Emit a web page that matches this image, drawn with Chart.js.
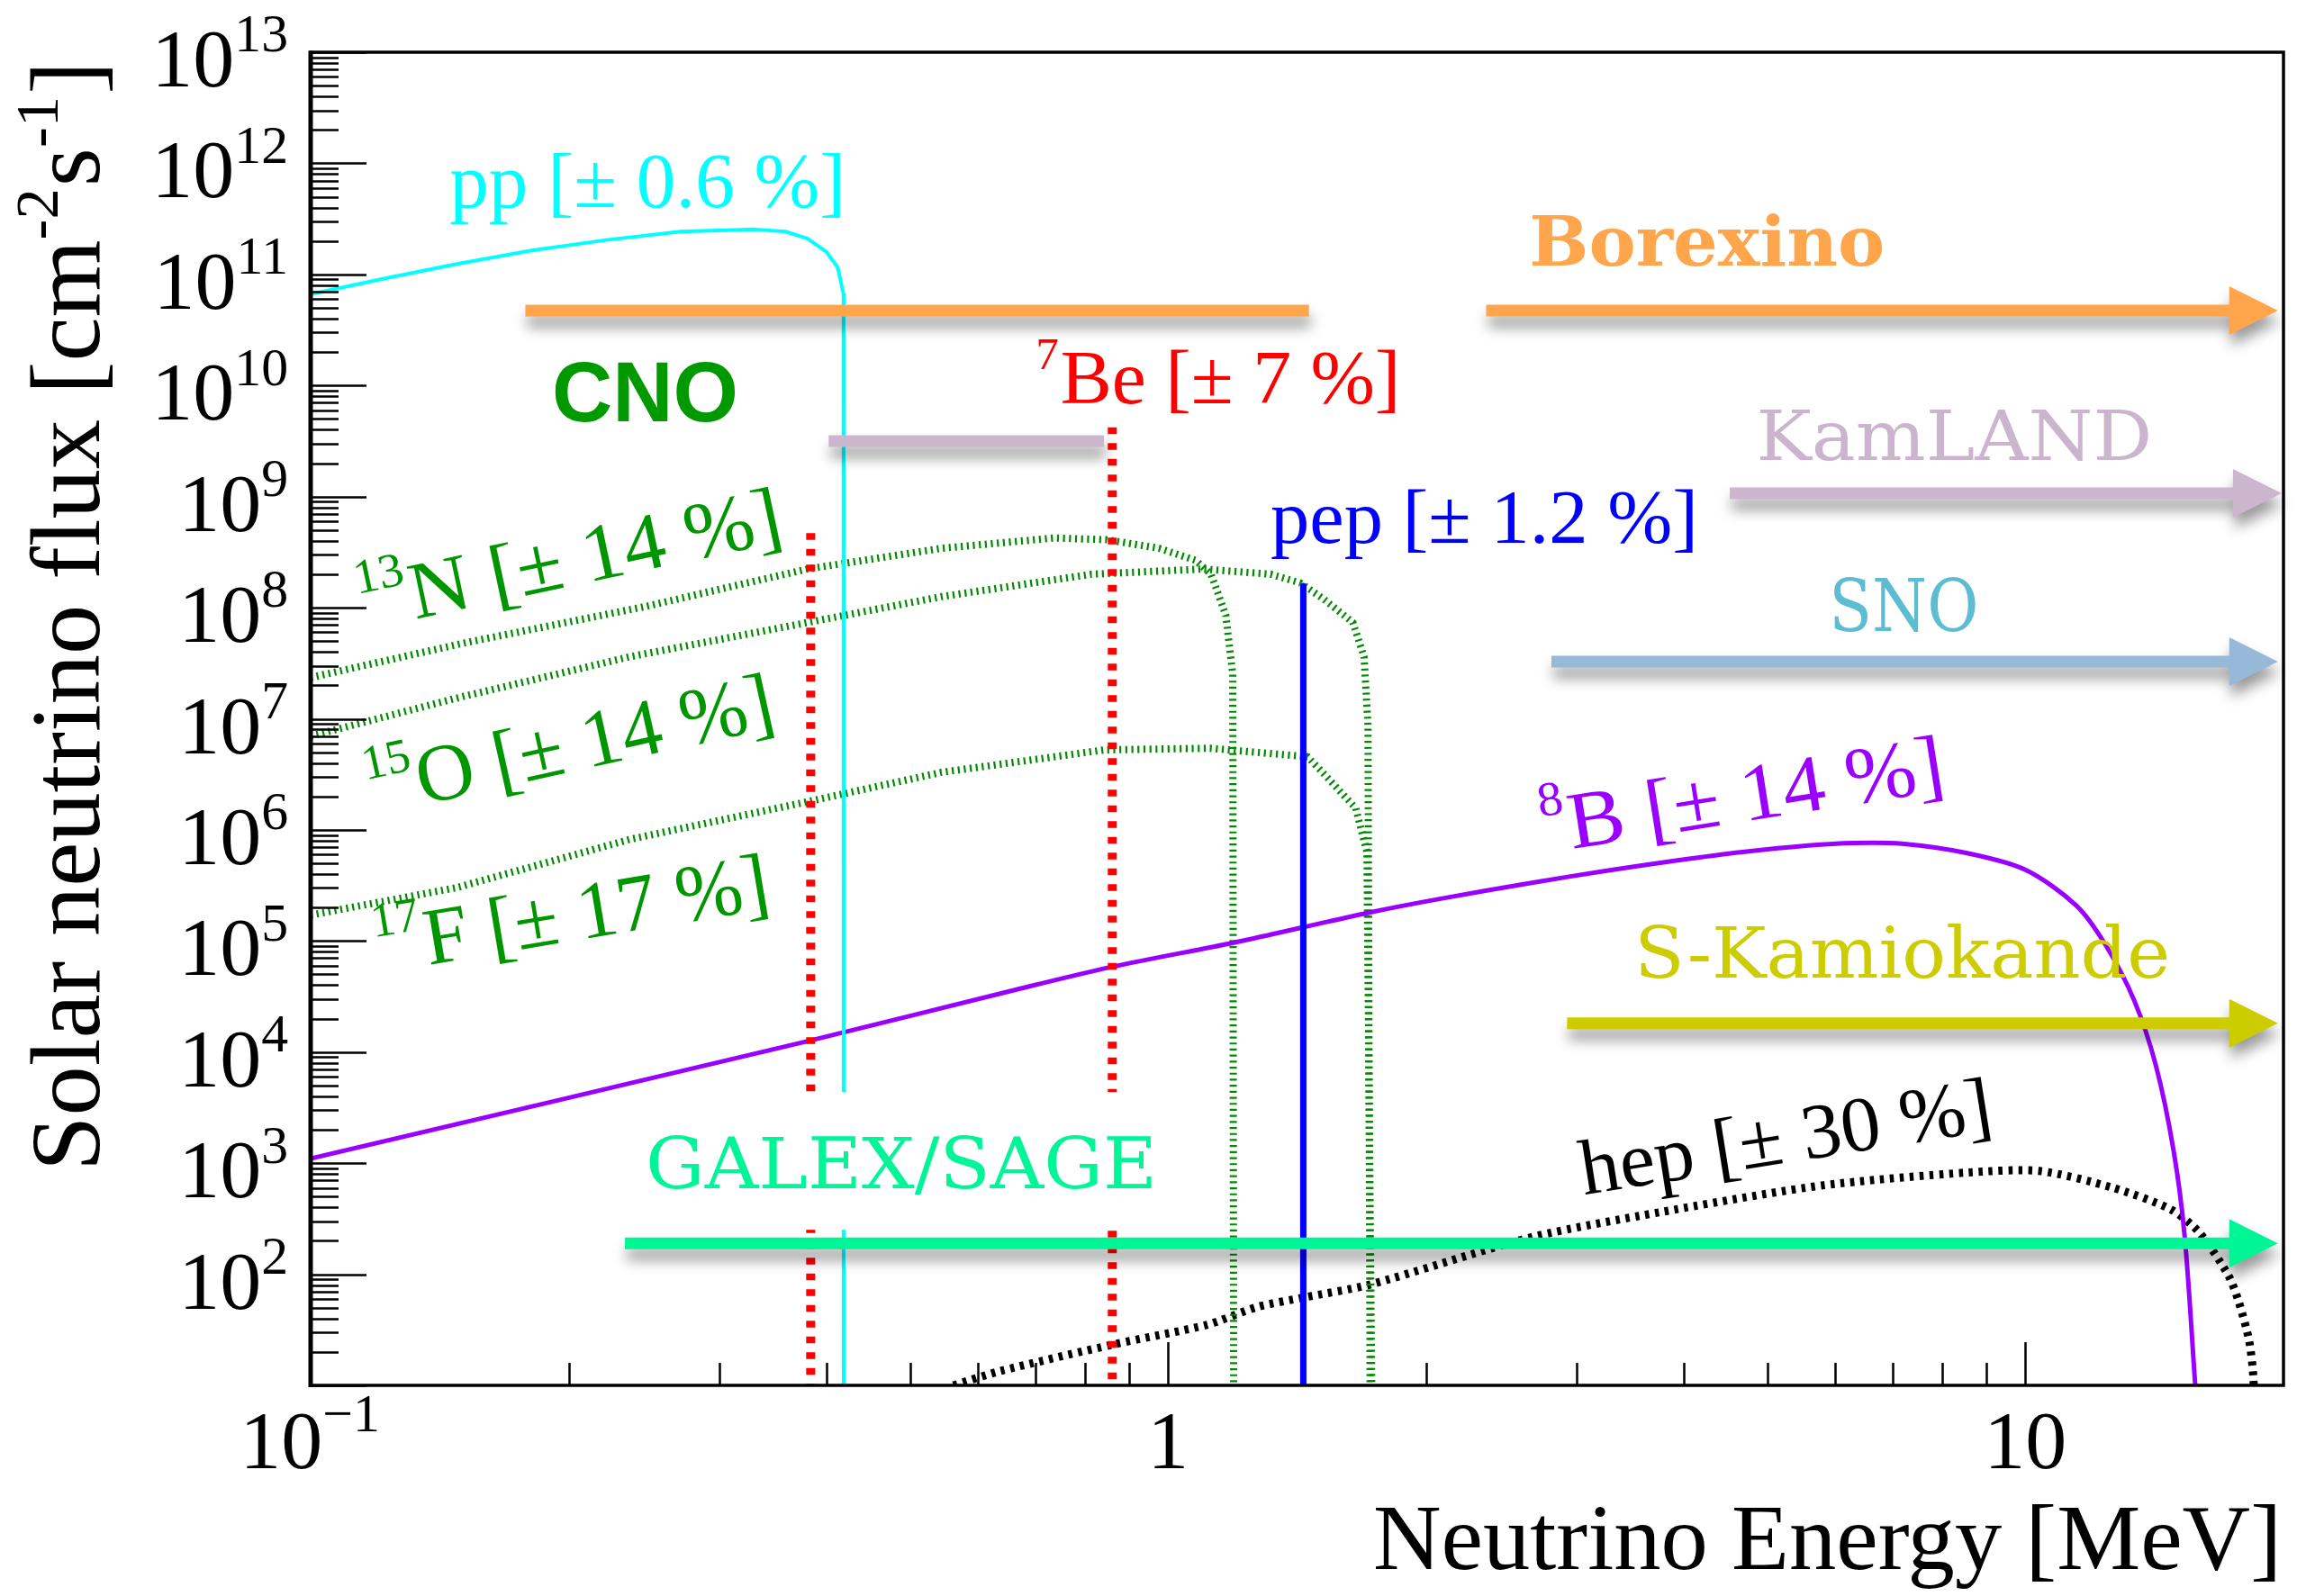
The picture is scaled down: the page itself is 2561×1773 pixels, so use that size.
<!DOCTYPE html>
<html>
<head>
<meta charset="utf-8">
<title>Solar neutrino spectrum</title>
<script src="https://cdn.jsdelivr.net/npm/chart.js@4.4.1/dist/chart.umd.min.js"></script>
<style>
  html, body { margin: 0; padding: 0; background: #ffffff; overflow: hidden; }
  canvas { display: block; }
</style>
</head>
<body>
<canvas id="spectrum" width="2561" height="1773" style="width:2561px;height:1773px"></canvas>
<script>
// ---------------- axis ranges ----------------
const energyMin = 0.1, energyMax = 20;     // MeV
const fluxMin = 10, fluxMax = 1e13;        // cm^-2 s^-1

// ---------------- tick labels ----------------
const xTickValues = [0.1, 1, 10];
const xTickBase   = ['10', '1', '10'];
const xTickSup    = ['\u22121', '', ''];
const yTickValues = [1e2, 1e3, 1e4, 1e5, 1e6, 1e7, 1e8, 1e9, 1e10, 1e11, 1e12, 1e13];
const yTickBase   = ['10', '10', '10', '10', '10', '10', '10', '10', '10', '10', '10', '10'];
const yTickSup    = ['2', '3', '4', '5', '6', '7', '8', '9', '10', '11', '12', '13'];

// ---------------- neutrino spectra (energy in MeV, flux) ----------------
// the final value 1 of a continuum sends the endpoint drop below the axis floor
const ppEnergy = [0.1, 0.1211, 0.1481, 0.181, 0.2212, 0.2702, 0.3303, 0.3579, 0.380, 0.3996, 0.4118, 0.4183, 0.4185];
const ppFlux   = [6.65e10, 9.08e10, 1.24e11, 1.64e11, 2.04e11, 2.43e11, 2.54e11, 2.43e11, 2.10e11, 1.59e11, 1.16e11, 6.65e10, 1];

const be7LineEnergy = [0.383, 0.861];
const be7LineFlux   = [4.7e8, 4.2e9];

const pepLineEnergy = [1.438];
const pepLineFlux   = [1.57e8];

const n13Energy = [0.1, 0.151, 0.2444, 0.380, 0.545, 0.7364, 0.848, 0.9757, 1.078, 1.122, 1.134, 1.168, 1.190, 1.193];
const n13Flux   = [2.35e7, 4.81e7, 1.016e8, 2.23e8, 3.43e8, 4.24e8, 4.09e8, 3.43e8, 2.66e8, 2.0e8, 1.62e8, 8.5e7, 2.5e7, 1];

const o15Energy = [0.1, 0.148, 0.2353, 0.380, 0.545, 0.814, 1.100, 1.317, 1.427, 1.516, 1.643, 1.693, 1.711, 1.722];
const o15Flux   = [6.98e6, 1.535e7, 3.61e7, 7.36e7, 1.26e8, 2.0e8, 2.23e8, 2.0e8, 1.67e8, 1.21e8, 7.36e7, 3.61e7, 8.67e6, 1];

const f17Energy = [0.1, 0.148, 0.2355, 0.380, 0.5445, 0.8433, 1.119, 1.455, 1.521, 1.656, 1.706, 1.733];
const f17Flux   = [1.71e5, 3.02e5, 8.2e5, 1.795e6, 3.30e6, 5.25e6, 5.43e6, 4.55e6, 3.18e6, 1.56e6, 6.3e5, 1];

const b8Energy = [0.1, 0.381, 0.666, 0.860, 1.193, 1.438, 1.727, 2.080, 2.664, 3.236, 3.930, 4.677, 5.58, 6.31, 7.178, 8.551, 10.0, 11.46, 12.39, 13.39, 14.19, 14.89, 15.34, 15.78, 16.12];
const b8Flux   = [1.10e3, 1.26e4, 3.66e4, 5.85e4, 9.66e4, 1.33e5, 1.82e5, 2.40e5, 3.35e5, 4.27e5, 5.31e5, 6.31e5, 7.24e5, 7.62e5, 7.50e5, 6.17e5, 4.37e5, 2.09e5, 9.33e4, 2.93e4, 7.67e3, 1.29e3, 217, 10, 1];

const hepEnergy = [0.562, 0.636, 0.8665, 1.109, 1.271, 1.438, 1.719, 2.664, 3.93, 5.80, 8.55, 10.39, 12.63, 14.76, 15.95, 17.25, 17.74, 18.24, 18.45, 18.6];
const hepFlux   = [10, 13.4, 23.5, 35.0, 50.8, 61.7, 80.7, 217, 386, 631, 824, 851, 603, 386, 238, 97.7, 56.2, 25.1, 11.5, 1];

// ---------------- experiment sensitivity ranges ----------------
const bandNames = ['Borexino', 'KamLAND'];
const bandLowE  = [0.178, 0.402];
const bandHighE = [1.46, 0.842];
const bandFlux  = [4.72e10, 3.16e9];

const arrowNames = ['Borexino', 'KamLAND', 'SNO', 'S-Kamiokande', 'GALEX/SAGE'];
const arrowLowE  = [2.35, 4.52, 2.80, 2.92, 0.2326];
const arrowTipE  = [19.7, 19.9, 19.7, 19.7, 19.7];
const arrowFlux  = [4.72e10, 1.07e9, 3.27e7, 1.82e4, 190];

// ---------------- styling ----------------
const SERIF = '"Liberation Serif", Tinos, "Times New Roman", serif';
const SANS  = '"Liberation Sans", Arimo, Arial, sans-serif';
const TYPE  = '"DejaVu Serif", serif';

const expColor = {
  'Borexino': '#ffa64d',
  'KamLAND': '#cbb6cd',
  'SNO': '#96b9da',
  'S-Kamiokande': '#cccc00',
  'GALEX/SAGE': '#00f596'
};

const pts = (es, fs) => es.map((e, i) => ({ x: e, y: fs[i] }));

function series(label, data, color, width, dash, tension) {
  return {
    label, data,
    borderColor: color, backgroundColor: color,
    borderWidth: width, borderDash: dash || [],
    borderCapStyle: 'butt', borderJoinStyle: 'round',
    pointRadius: 0, tension: tension || 0, fill: false
  };
}

const datasets = [
  series('pep', [{ x: pepLineEnergy[0], y: pepLineFlux[0] }, { x: pepLineEnergy[0], y: 1 }], '#0000ff', 7),
  series('pp', pts(ppEnergy, ppFlux), '#00ffff', 4),
  series('7Be 0.38', [{ x: be7LineEnergy[0], y: be7LineFlux[0] }, { x: be7LineEnergy[0], y: 1 }], '#ff0000', 10, [7.5, 10]),
  series('7Be 0.86', [{ x: be7LineEnergy[1], y: be7LineFlux[1] }, { x: be7LineEnergy[1], y: 1 }], '#ff0000', 10, [7.5, 10]),
  series('8B', pts(b8Energy, b8Flux), '#9900ff', 5, null, 0.3),
  series('13N', pts(n13Energy, n13Flux), '#008a00', 8, [2.2, 4.5]),
  series('15O', pts(o15Energy, o15Flux), '#008a00', 8, [2.2, 4.5]),
  series('17F', pts(f17Energy, f17Flux), '#008a00', 8, [2.2, 4.5]),
  series('hep', pts(hepEnergy, hepFlux), '#000000', 9, [4.5, 6.5], 0.25)
];

// ---------------- text labels (anchored in data coordinates) ----------------
const labels = [
  { segs: [['pp [\u00b1 0.6 %]']], e: 0.1452, f: 4.04e11, size: 86, width: 440, color: '#00ffff', family: SERIF },
  { segs: [['7', 1], ['Be [\u00b1 7 %]']], e: 0.701, f: 6.92e9, size: 84, width: 405, color: '#ff0000', family: SERIF },
  { segs: [['pep [\u00b1 1.2 %]']], e: 1.317, f: 3.83e8, size: 85, width: 475, color: '#0000ff', family: SERIF },
  { segs: [['CNO']], e: 0.1912, f: 4.75e9, size: 95, width: 207, color: '#009900', family: SANS, weight: 'bold' },
  { segs: [['13', 1], ['N [\u00b1 14 %]']], e: 0.1156, f: 6.32e7, size: 90, width: 478, color: '#009600', family: SERIF, angle: -12 },
  { segs: [['15', 1], ['O [\u00b1 14 %]']], e: 0.1184, f: 1.343e6, size: 90, width: 460, color: '#009600', family: SERIF, angle: -12.5 },
  { segs: [['17', 1], ['F [\u00b1 17 %]']], e: 0.1204, f: 5.13e4, size: 90, width: 442, color: '#009600', family: SERIF, angle: -9.5 },
  { segs: [['8', 1], ['B [\u00b1 14 %]']], e: 2.755, f: 6.19e5, size: 90, width: 452, color: '#9900ff', family: SERIF, angle: -9 },
  { segs: [['hep [\u00b1 30 %]']], e: 3.057, f: 520, size: 87, width: 462, color: '#000000', family: SERIF, angle: -9 },
  { segs: [['Borexino']], e: 2.638, f: 1.2e11, size: 77, width: 395, color: '#ffa64d', family: TYPE, weight: 'bold' },
  { segs: [['KamLAND']], e: 4.853, f: 2.13e9, size: 76, width: 440, color: '#cbb4cd', family: TYPE },
  { segs: [['SNO']], e: 5.902, f: 6.15e7, size: 80, width: 166, color: '#5bbcd2', family: TYPE },
  { segs: [['S-Kamiokande']], e: 3.50, f: 4.67e4, size: 78, width: 595, color: '#cccc00', family: TYPE },
  { segs: [['GALEX/SAGE']], e: 0.2459, f: 593, size: 78, width: 568, color: '#00f596', family: TYPE, backing: true }
];

// Rich text: segments of [text, isSuperscript]; optional rotation and width fitting.
function drawRich(ctx, segs, o) {
  const supScale = o.supScale || 0.6;
  const rise = (o.supRise || 0.45) * o.size;
  const font = s => `${o.weight || 'normal'} ${s}px ${o.family}`;
  let w = 0;
  const parts = segs.map(([t, sup]) => {
    const s = sup ? o.size * supScale : o.size;
    ctx.font = font(s);
    const p = { t, s, dx: w, dy: sup ? -rise : 0 };
    w += ctx.measureText(t).width + (sup ? o.size * 0.02 : 0);
    return p;
  });
  const sx = o.width ? o.width / w : 1;
  ctx.save();
  ctx.translate(o.x, o.y);
  if (o.angle) ctx.rotate(o.angle * Math.PI / 180);
  ctx.scale(sx, 1);
  const x0 = o.align === 'right' ? -w : (o.align === 'center' ? -w / 2 : 0);
  ctx.fillStyle = o.color;
  ctx.textAlign = 'left';
  ctx.textBaseline = 'alphabetic';
  parts.forEach(p => { ctx.font = font(p.s); ctx.fillText(p.t, x0 + p.dx, p.dy); });
  ctx.restore();
  return w * sx;
}

function arrowPath(ctx, x0, x1, yc, half, headLen, headHalf) {
  ctx.beginPath();
  ctx.moveTo(x0, yc - half);
  ctx.lineTo(x1 - headLen, yc - half);
  ctx.lineTo(x1 - headLen, yc - headHalf);
  ctx.lineTo(x1, yc);
  ctx.lineTo(x1 - headLen, yc + headHalf);
  ctx.lineTo(x1 - headLen, yc + half);
  ctx.lineTo(x0, yc + half);
  ctx.closePath();
}

function withShadow(ctx) {
  ctx.shadowColor = 'rgba(0,0,0,0.40)';
  ctx.shadowBlur = 15;
  ctx.shadowOffsetX = 2;
  ctx.shadowOffsetY = 12;
}

const overlay = {
  id: 'overlay',
  afterDatasetsDraw(chart) {
    const ctx = chart.ctx;
    const xs = chart.scales.x, ys = chart.scales.y;
    const a = chart.chartArea;
    const px = v => xs.getPixelForValue(v);
    const py = v => ys.getPixelForValue(v);

    // white backing behind labels that sit on top of the curves
    labels.filter(l => l.backing).forEach(l => {
      const x = px(l.e), y = py(l.f);
      ctx.save();
      ctx.fillStyle = '#ffffff';
      ctx.fillRect(x - 20, y - 107, l.width + 35, 153);
      ctx.restore();
    });

    // finite energy windows
    bandNames.forEach((name, i) => {
      const x0 = px(bandLowE[i]), x1 = px(bandHighE[i]), y = py(bandFlux[i]);
      ctx.save();
      withShadow(ctx);
      ctx.fillStyle = expColor[name];
      ctx.fillRect(x0, y - 6.5, x1 - x0, 13);
      ctx.restore();
    });

    // open-ended thresholds
    arrowNames.forEach((name, i) => {
      const x0 = px(arrowLowE[i]), x1 = px(arrowTipE[i]), y = py(arrowFlux[i]);
      ctx.save();
      withShadow(ctx);
      ctx.fillStyle = expColor[name];
      arrowPath(ctx, x0, x1, y, 6.5, 54, 27);
      ctx.fill();
      ctx.restore();
    });

    // annotations
    labels.forEach(l => {
      drawRich(ctx, l.segs, {
        x: px(l.e), y: py(l.f), size: l.size, width: l.width, color: l.color,
        family: l.family, weight: l.weight, angle: l.angle
      });
    });

    // frame
    ctx.save();
    ctx.strokeStyle = '#000';
    ctx.setLineDash([]);
    ctx.lineWidth = 3.5;
    ctx.strokeRect(a.left, a.top, a.right - a.left, a.bottom - a.top);
    ctx.lineWidth = 5;
    ctx.beginPath();
    ctx.moveTo(a.left, a.top - 1.5); ctx.lineTo(a.left, a.bottom + 2);
    ctx.stroke();

    // inward ticks
    ctx.lineWidth = 2.5;
    ctx.beginPath();
    for (let k = 1; k <= 13; k++) {
      for (let m = 1; m <= 9; m++) {
        const v = m * Math.pow(10, k);
        if (v > fluxMax * 1.0001) break;
        const y = Math.round(py(v)) + 0.5;
        const len = m === 1 ? 62 : 31;
        ctx.moveTo(a.left, y); ctx.lineTo(a.left + len, y);
      }
    }
    for (let d = -1; d <= 1; d++) {
      for (let m = 1; m <= 9; m++) {
        const v = m * Math.pow(10, d);
        if (v < energyMin * 0.9999 || v > energyMax * 0.9999) continue;
        const x = Math.round(px(v)) + 0.5;
        const len = m === 1 ? 48 : 25;
        ctx.moveTo(x, a.bottom); ctx.lineTo(x, a.bottom - len);
      }
    }
    ctx.stroke();
    ctx.restore();

    // tick labels
    yTickValues.forEach((v, i) => {
      drawRich(ctx, [[yTickBase[i]], [yTickSup[i], 1]], {
        x: a.left - 23, y: py(v) + 38, size: 92, family: SERIF, color: '#000',
        align: 'right', supScale: 0.65, supRise: 0.42
      });
    });
    xTickValues.forEach((v, i) => {
      const segs = xTickSup[i] ? [[xTickBase[i]], [xTickSup[i], 1]] : [[xTickBase[i]]];
      drawRich(ctx, segs, {
        x: px(v), y: a.bottom + 92, size: 92, family: SERIF, color: '#000',
        align: 'center', supScale: 0.65, supRise: 0.45
      });
    });

    // axis titles
    drawRich(ctx, [['Neutrino Energy [MeV]']], {
      x: a.right - 2, y: a.bottom + 204, size: 104, width: 1009,
      family: SERIF, color: '#000', align: 'right'
    });
    drawRich(ctx, [['Solar neutrino flux [cm'], ['-2', 1], ['s'], ['-1', 1], [']']], {
      x: 110, y: a.bottom - 238, size: 110, width: 1233, angle: -90,
      family: SERIF, color: '#000', supScale: 0.62, supRise: 0.42
    });
  }
};

new Chart(document.getElementById('spectrum'), {
  type: 'line',
  data: { datasets },
  options: {
    responsive: false,
    animation: false,
    devicePixelRatio: 1,
    layout: { padding: { left: 345, right: 25, top: 58, bottom: 234 } },
    plugins: { legend: { display: false }, tooltip: { enabled: false } },
    scales: {
      x: { type: 'logarithmic', min: energyMin, max: energyMax, display: false },
      y: { type: 'logarithmic', min: fluxMin, max: fluxMax, display: false }
    }
  },
  plugins: [overlay]
});
</script>
</body>
</html>
